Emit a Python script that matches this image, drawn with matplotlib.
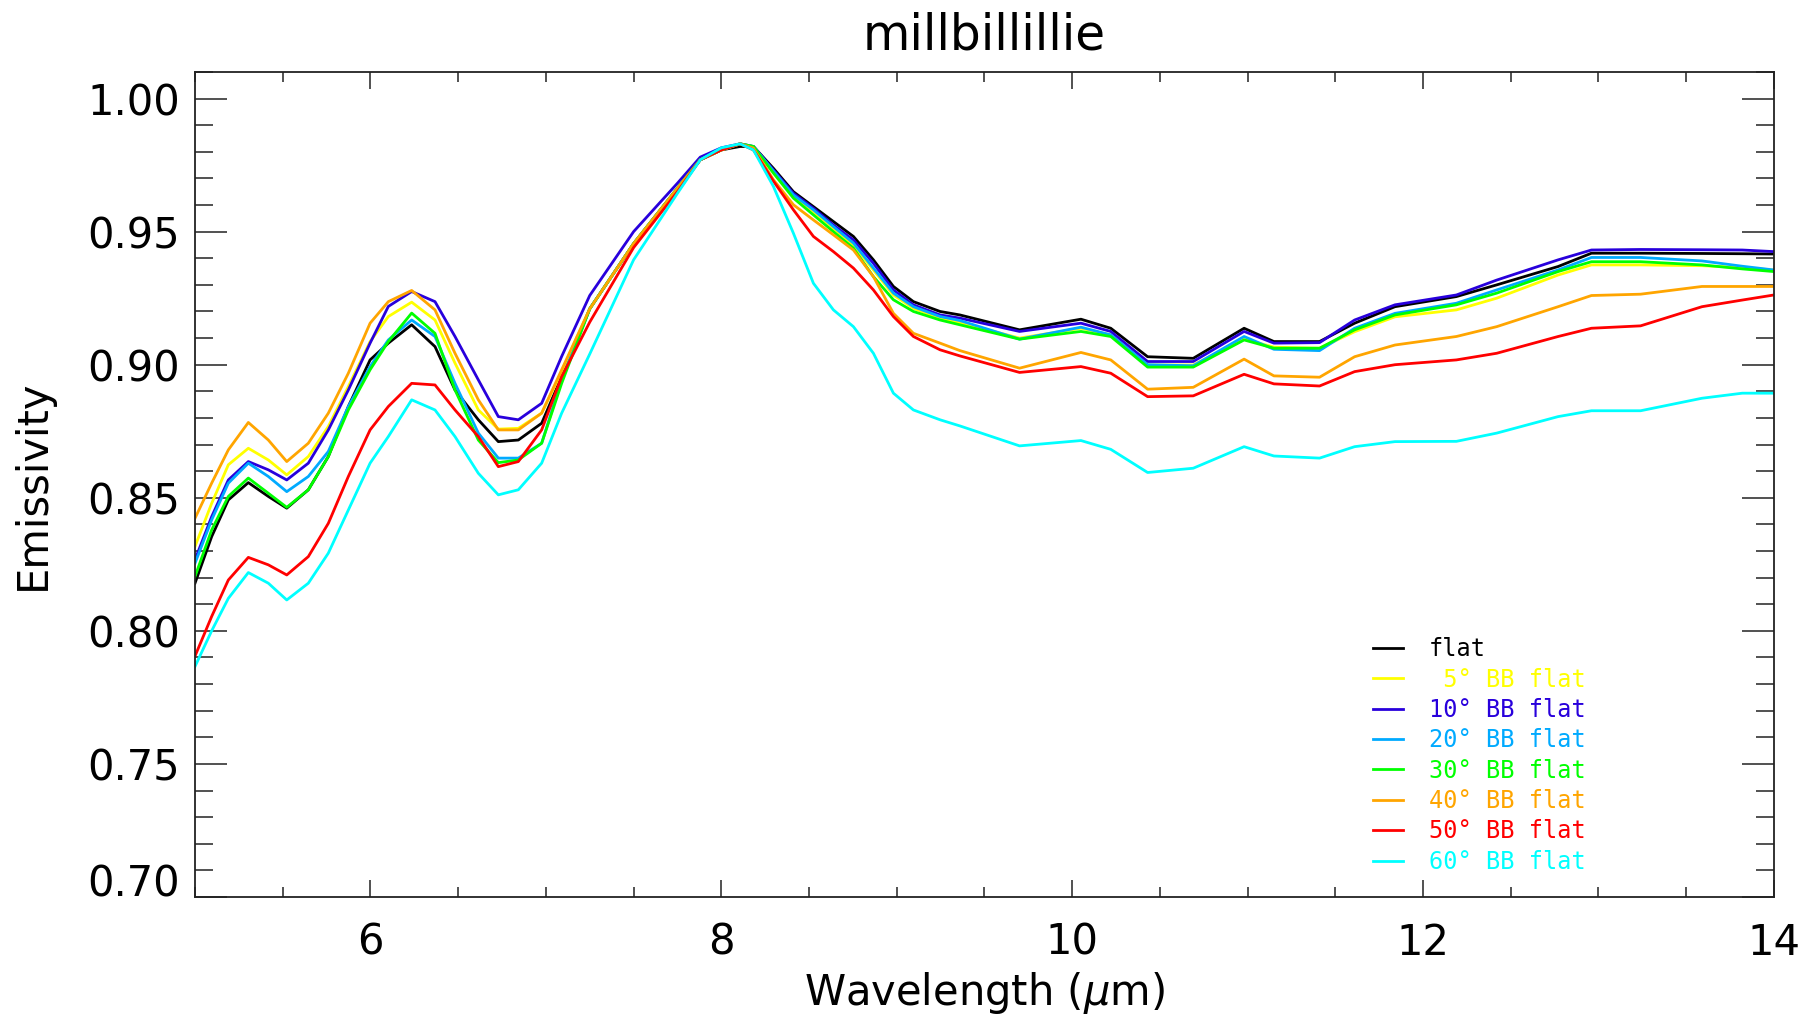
import matplotlib
matplotlib.use("Agg")
import matplotlib.pyplot as plt
from matplotlib.ticker import MultipleLocator, FixedLocator

# wavelength grid (microns)
wavelength = [5.000, 5.095, 5.190, 5.304, 5.418, 5.523, 5.646, 5.760, 5.874, 5.998,
              6.102, 6.235, 6.368, 6.482, 6.615, 6.729, 6.843, 6.976, 7.090,
              7.25, 7.50, 7.75, 7.88, 8.00, 8.107, 8.183, 8.297, 8.411, 8.525,
              8.639, 8.753, 8.867, 8.981, 9.095, 9.247,
              9.36, 9.70, 10.05, 10.22, 10.43, 10.69, 10.98, 11.15, 11.41,
              11.61, 11.84, 12.19, 12.42, 12.77, 12.96, 13.24, 13.59, 13.82, 14.00]

flat = [0.8179, 0.8354, 0.8492, 0.8557, 0.8505, 0.8461, 0.853, 0.8655, 0.8843, 0.9018,
        0.9081, 0.915, 0.9068, 0.8905, 0.8793, 0.8711, 0.8717, 0.878, 0.8955,
        0.921, 0.9455, 0.9663, 0.977, 0.9807, 0.982, 0.982, 0.9738, 0.965, 0.9594,
        0.9538, 0.9482, 0.9394, 0.9294, 0.9237, 0.920,
        0.9187, 0.9131, 0.9171, 0.9137, 0.903, 0.9024, 0.9137, 0.9087, 0.9087,
        0.9156, 0.9218, 0.9256, 0.930, 0.9369, 0.9419, 0.9419, 0.9418, 0.9417, 0.9416]
bb5 = [0.8317, 0.8479, 0.8624, 0.8686, 0.8642, 0.8586, 0.8655, 0.8768, 0.8918, 0.9087,
       0.9181, 0.9235, 0.9168, 0.9006, 0.883, 0.8758, 0.8761, 0.8818, 0.8974,
       0.921, 0.9455, 0.9663, 0.977, 0.9807, 0.983, 0.982, 0.9725, 0.9634, 0.9576,
       0.9513, 0.945, 0.9356, 0.9262, 0.9212, 0.9175,
       0.9158, 0.9100, 0.9137, 0.9112, 0.8999, 0.8999, 0.9096, 0.9066, 0.9062,
       0.9124, 0.918, 0.9206, 0.925, 0.9337, 0.9375, 0.9375, 0.9372, 0.9365, 0.9356]
bb10 = [0.8267, 0.8429, 0.8567, 0.8636, 0.8605, 0.8567, 0.863, 0.8755, 0.8905, 0.9081,
        0.9219, 0.9275, 0.9237, 0.9106, 0.8943, 0.8805, 0.8793, 0.8855, 0.9031,
        0.926, 0.950, 0.9682, 0.978, 0.9815, 0.983, 0.982, 0.9732, 0.9644, 0.9588,
        0.9525, 0.9469, 0.9381, 0.9281, 0.9225, 0.9187,
        0.9175, 0.9125, 0.9156, 0.9125, 0.9012, 0.9012, 0.9125, 0.9081, 0.9083,
        0.9168, 0.9225, 0.9262, 0.9318, 0.9394, 0.9431, 0.9433, 0.9432, 0.9431, 0.9425]
bb20 = [0.8254, 0.8417, 0.8555, 0.863, 0.858, 0.8523, 0.858, 0.8674, 0.8843, 0.8993,
        0.9093, 0.9168, 0.9106, 0.893, 0.8743, 0.8649, 0.8649, 0.8705, 0.8943,
        0.921, 0.9455, 0.9663, 0.977, 0.9807, 0.983, 0.982, 0.9728, 0.9638, 0.9582,
        0.9519, 0.9457, 0.9363, 0.9269, 0.9218, 0.9181,
        0.9166, 0.9096, 0.9141, 0.9112, 0.9000, 0.8996, 0.9106, 0.9058, 0.9053,
        0.9137, 0.9193, 0.9231, 0.9281, 0.9356, 0.9403, 0.9403, 0.939, 0.937, 0.9356]
bb30 = [0.8204, 0.8379, 0.8505, 0.8574, 0.8517, 0.8464, 0.853, 0.8655, 0.883, 0.8981,
        0.9087, 0.9194, 0.9118, 0.8905, 0.8717, 0.8632, 0.8642, 0.8705, 0.893,
        0.921, 0.9455, 0.9663, 0.977, 0.9807, 0.983, 0.982, 0.972, 0.9626, 0.9563,
        0.950, 0.9438, 0.9331, 0.9244, 0.920, 0.9168,
        0.9150, 0.9096, 0.9125, 0.9106, 0.8991, 0.8991, 0.9093, 0.9062, 0.9062,
        0.9131, 0.9187, 0.9225, 0.9269, 0.935, 0.9387, 0.9387, 0.9375, 0.936, 0.935]
bb40 = [0.8423, 0.8555, 0.868, 0.8783, 0.8717, 0.8636, 0.8705, 0.8818, 0.8968, 0.9156,
        0.9237, 0.9279, 0.9206, 0.9043, 0.8868, 0.8755, 0.8755, 0.8818, 0.8981,
        0.921, 0.9455, 0.9663, 0.977, 0.9807, 0.983, 0.9814, 0.9695, 0.9601, 0.9544,
        0.9488, 0.9431, 0.9331, 0.9193, 0.9118, 0.9081,
        0.9053, 0.8987, 0.9046, 0.9018, 0.8908, 0.8915, 0.9021, 0.8958, 0.8953,
        0.903, 0.9074, 0.9106, 0.9143, 0.9218, 0.926, 0.9265, 0.9294, 0.9294, 0.9294]
bb50 = [0.7905, 0.8054, 0.8191, 0.8276, 0.8248, 0.821, 0.8279, 0.8404, 0.858, 0.8755,
        0.8843, 0.893, 0.8924, 0.883, 0.873, 0.8617, 0.8636, 0.8755, 0.8955,
        0.916, 0.944, 0.965, 0.977, 0.9807, 0.983, 0.9807, 0.969, 0.9582, 0.9482,
        0.9425, 0.9363, 0.9281, 0.9181, 0.9106, 0.9056,
        0.9033, 0.8971, 0.8993, 0.8968, 0.888, 0.8883, 0.8964, 0.8928, 0.892,
        0.8974, 0.900, 0.9018, 0.9043, 0.9106, 0.9137, 0.9146, 0.9218, 0.9243, 0.9262]
bb60 = [0.7866, 0.800, 0.8122, 0.8219, 0.8179, 0.8116, 0.8179, 0.8292, 0.8454, 0.863,
        0.873, 0.8868, 0.883, 0.873, 0.8592, 0.8511, 0.853, 0.863, 0.8818,
        0.904, 0.9394, 0.9644, 0.977, 0.9815, 0.983, 0.9807, 0.967, 0.9494, 0.9306,
        0.9206, 0.9143, 0.9043, 0.8893, 0.883, 0.8793,
        0.877, 0.8695, 0.8715, 0.8682, 0.8595, 0.8611, 0.8692, 0.8657, 0.8649,
        0.8692, 0.8711, 0.8712, 0.8743, 0.8805, 0.8827, 0.8827, 0.8874, 0.8893, 0.8893]

series = [flat, bb5, bb10, bb20, bb30, bb40, bb50, bb60]
labels = ['flat', ' 5° BB flat', '10° BB flat', '20° BB flat', '30° BB flat',
          '40° BB flat', '50° BB flat', '60° BB flat']
colors = ['#000000', '#FFFF00', '#2800DC', '#00AAFF', '#00FF00', '#FFA500',
          '#FF0000', '#00FFFF']

fig = plt.figure(figsize=(18.14, 10.18), dpi=100)
ax = fig.add_axes([0.1075, 0.1189, 0.8704, 0.8104])

for y, lab, c in zip(series, labels, colors):
    ax.plot(wavelength, y, color=c, lw=2.0, label=lab)

ax.set_xlim(5, 14)
ax.set_ylim(0.70, 1.01)

ax.xaxis.set_major_locator(FixedLocator([6, 8, 10, 12, 14]))
ax.xaxis.set_minor_locator(MultipleLocator(0.5))
ax.yaxis.set_major_locator(FixedLocator([0.70, 0.75, 0.80, 0.85, 0.90, 0.95, 1.00]))
ax.yaxis.set_minor_locator(MultipleLocator(0.01))
ax.set_yticklabels(['0.70', '0.75', '0.80', '0.85', '0.90', '0.95', '1.00'])

ax.tick_params(which='both', direction='in', top=True, right=True, width=1.1,
               color='#222222', labelsize=30)
ax.tick_params(axis='x', which='major', length=12, pad=18)
ax.tick_params(axis='x', which='minor', length=7)
ax.tick_params(axis='y', which='major', length=23, pad=11)
ax.tick_params(axis='y', which='minor', length=13)

# the bottom label sits above the axis corner in the original
ax.get_yticklabels()[0].set_verticalalignment('baseline')

for s in ax.spines.values():
    s.set_linewidth(1.3)
    s.set_color('#222222')

ax.set_title('millbillillie', fontsize=35, pad=16)
ax.set_xlabel('Wavelength ($\\mu$m)', fontsize=30, labelpad=4)
ax.set_ylabel('Emissivity', fontsize=30, labelpad=24)

leg = ax.legend(loc='lower left', bbox_to_anchor=(0.746, 0.028), frameon=False,
                prop={'family': 'DejaVu Sans Mono', 'size': 17},
                labelcolor='linecolor', handlelength=1.27, handletextpad=1.1,
                labelspacing=0.27, borderpad=0, borderaxespad=0)

fig.savefig('out.png', dpi=100)
